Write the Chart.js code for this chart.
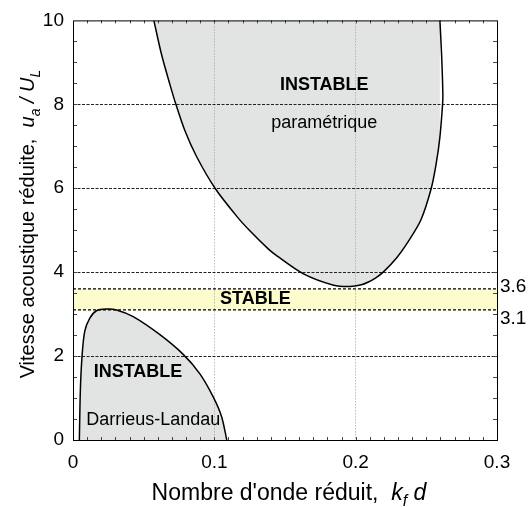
<!DOCTYPE html>
<html>
<head>
<meta charset="utf-8">
<script src="https://cdn.jsdelivr.net/npm/chart.js@4/dist/chart.umd.min.js"></script>
<style>
  html, body { margin: 0; padding: 0; background: #fff; }
</style>
</head>
<body>
<canvas id="chart" width="530" height="507"></canvas>
<script>
'use strict';

// parametric instability boundary: top-left, down round the minimum, back up to top-right
const upperK = [0.0572, 0.0627, 0.0686, 0.0728, 0.0792, 0.0875, 0.1005, 0.1159, 0.1253, 0.1383, 0.1443,
  0.1631, 0.1844, 0.1962, 0.2040, 0.2086, 0.2140, 0.2195, 0.2292, 0.2368, 0.2462, 0.2535, 0.2570, 0.2596,
  0.2615, 0.2617, 0.2608, 0.2596];
const upperU = [10, 9.18, 8.47, 8.0, 7.37, 6.75, 6.0, 5.33, 4.98, 4.55, 4.39,
  3.96, 3.69, 3.66, 3.70, 3.76, 3.86, 4.0, 4.35, 4.71, 5.25, 6.0, 6.59, 7.22,
  8.0, 8.24, 9.18, 10];

// Darrieus-Landau boundary
const lowerK = [0.0045, 0.0052, 0.0064, 0.0083, 0.0118, 0.0166, 0.0237, 0.0308, 0.0426, 0.0615, 0.0780,
  0.0899, 0.0993, 0.1052, 0.1088];
const lowerU = [0, 1.18, 2.0, 2.59, 2.9, 3.08, 3.12, 3.1, 2.94, 2.51, 2.04,
  1.57, 1.02, 0.55, 0];

// stable band
const bandTop = 3.6;
const bandBottom = 3.1;

const xTicks = [0, 0.1, 0.2, 0.3];
const yTicks = [0, 2, 4, 6, 8, 10];

const FONT = "'Liberation Sans', Arial, sans-serif";
const grey = '#e2e3e3';
const yellow = '#fcfccc';

function toPoints(xs, ys) {
  return xs.map((x, i) => ({ x: x, y: ys[i] }));
}

// labels placed in data coordinates
const notes = [
  { text: 'INSTABLE', k: 0.1778, u: 8.45, bold: true },
  { text: 'paramétrique', k: 0.1778, u: 7.55, bold: false },
  { text: 'STABLE', k: 0.129, u: 3.35, bold: true },
  { text: 'INSTABLE', k: 0.046, u: 1.62, bold: true },
  { text: 'Darrieus-Landau', k: 0.0568, u: 0.48, bold: false }
];

function fontOf(p, size) {
  let s = p.sub ? Math.round(size * 0.68) : size;
  return (p.it ? 'italic ' : '') + s + 'px ' + FONT;
}

function drawRich(ctx, parts, size) {
  let total = 0;
  parts.forEach(p => {
    ctx.font = fontOf(p, size);
    total += ctx.measureText(p.t).width;
  });
  let cx = -total / 2;
  parts.forEach(p => {
    ctx.font = fontOf(p, size);
    ctx.fillText(p.t, cx, p.sub ? size * 0.28 : 0);
    cx += ctx.measureText(p.t).width;
  });
}

const decor = {
  id: 'decor',
  afterDatasetsDraw(chart) {
    const ctx = chart.ctx;
    const a = chart.chartArea;
    const xs = chart.scales.x;
    const ys = chart.scales.y;
    ctx.save();

    // minor ticks, pointing inwards
    ctx.strokeStyle = '#444';
    ctx.lineWidth = 1;
    ctx.beginPath();
    for (let i = 1; i < 20; i++) {
      const py = Math.round(ys.getPixelForValue(i * 0.5)) + 0.5;
      ctx.moveTo(a.left, py); ctx.lineTo(a.left + 4, py);
      ctx.moveTo(a.right, py); ctx.lineTo(a.right - 4, py);
    }
    for (let i = 1; i < 30; i++) {
      const px = Math.round(xs.getPixelForValue(i * 0.01)) + 0.5;
      ctx.moveTo(px, a.bottom); ctx.lineTo(px, a.bottom - 3);
      ctx.moveTo(px, a.top); ctx.lineTo(px, a.top + 3);
    }
    ctx.stroke();

    // frame
    ctx.strokeStyle = '#000';
    ctx.lineWidth = 1;
    ctx.strokeRect(a.left + 0.5, a.top + 0.5, a.right - a.left, a.bottom - a.top);

    // labels inside the plot
    ctx.fillStyle = '#000';
    ctx.textAlign = 'center';
    ctx.textBaseline = 'middle';
    notes.forEach(n => {
      ctx.font = (n.bold ? 'bold ' : '') + '18px ' + FONT;
      ctx.fillText(n.text, xs.getPixelForValue(n.k), ys.getPixelForValue(n.u));
    });

    // band limits on the right
    ctx.font = '19px ' + FONT;
    ctx.textAlign = 'left';
    ctx.fillText(String(bandTop), a.right + 3, ys.getPixelForValue(bandTop) - 2);
    ctx.fillText(String(bandBottom), a.right + 3, ys.getPixelForValue(bandBottom) + 9);

    // axis titles
    ctx.textBaseline = 'alphabetic';
    ctx.save();
    ctx.translate(289, 500);
    drawRich(ctx, [
      { t: "Nombre d'onde réduit,  " },
      { t: 'k', it: true },
      { t: 'f', it: true, sub: true },
      { t: ' ' },
      { t: 'd', it: true }
    ], 23);
    ctx.restore();

    ctx.save();
    ctx.translate(34, 224);
    ctx.rotate(-Math.PI / 2);
    drawRich(ctx, [
      { t: 'Vitesse acoustique réduite,  ' },
      { t: 'u', it: true },
      { t: 'a', it: true, sub: true },
      { t: ' / ', it: true },
      { t: 'U', it: true },
      { t: 'L', it: true, sub: true }
    ], 20);
    ctx.restore();

    ctx.restore();
  }
};

const ctx = document.getElementById('chart').getContext('2d');
new Chart(ctx, {
  type: 'scatter',
  data: {
    datasets: [
      {
        data: toPoints(upperK, upperU),
        showLine: true,
        borderColor: '#000',
        borderWidth: 1.5,
        backgroundColor: grey,
        fill: 'end',
        tension: 0.3,
        pointRadius: 0
      },
      {
        data: toPoints(lowerK, lowerU),
        showLine: true,
        borderColor: '#000',
        borderWidth: 1.5,
        backgroundColor: grey,
        fill: 'origin',
        tension: 0.3,
        pointRadius: 0
      },
      {
        data: toPoints([xTicks[0], xTicks[3]], [bandTop, bandTop]),
        showLine: true,
        borderColor: '#000',
        borderWidth: 1.3,
        borderDash: [3, 2],
        backgroundColor: yellow,
        fill: '+1',
        pointRadius: 0
      },
      {
        data: toPoints([xTicks[0], xTicks[3]], [bandBottom, bandBottom]),
        showLine: true,
        borderColor: '#000',
        borderWidth: 1.3,
        borderDash: [3, 2],
        fill: false,
        pointRadius: 0
      }
    ]
  },
  options: {
    responsive: false,
    animation: false,
    devicePixelRatio: 1,
    layout: { padding: { top: 15, right: 33, left: 0, bottom: 0 } },
    plugins: {
      legend: { display: false },
      tooltip: { enabled: false },
      filler: { drawTime: 'beforeDraw' }
    },
    scales: {
      x: {
        type: 'linear',
        min: 0,
        max: 0.3,
        afterBuildTicks: s => { s.ticks = xTicks.map(v => ({ value: v })); },
        afterFit: s => { s.height = 67; },
        ticks: {
          color: '#000',
          padding: 11,
          font: { size: 19, family: FONT },
          callback: v => String(v)
        },
        grid: {
          drawTicks: false,
          lineWidth: 1,
          color: c => (c.tick && c.tick.value > 0 && c.tick.value < 0.3) ? '#9a9a9a' : 'transparent'
        },
        border: { display: false, dash: [1, 2] }
      },
      y: {
        type: 'linear',
        min: 0,
        max: 10,
        afterBuildTicks: s => { s.ticks = yTicks.map(v => ({ value: v })); },
        afterFit: s => { s.width = 73; },
        ticks: {
          color: '#000',
          padding: 9,
          font: { size: 19, family: FONT },
          callback: v => String(v)
        },
        grid: {
          drawTicks: false,
          lineWidth: 1,
          color: c => (c.tick && c.tick.value > 0 && c.tick.value < 10) ? '#222' : 'transparent'
        },
        border: { display: false, dash: [3, 1.5] }
      }
    }
  },
  plugins: [decor]
});
</script>
</body>
</html>
